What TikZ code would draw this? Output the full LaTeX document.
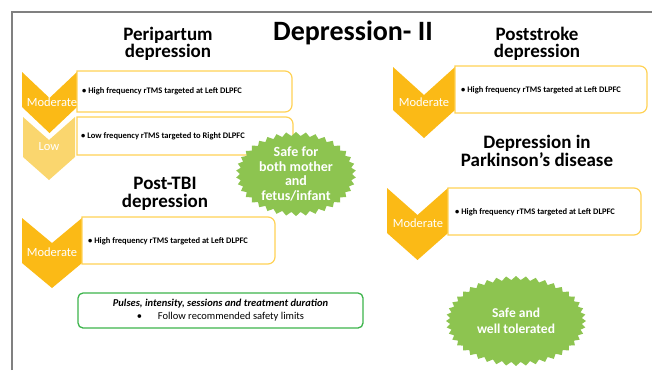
\documentclass[tikz,border=0pt]{standalone}
\usepackage{fontspec}
\setmainfont{Carlito}
\usetikzlibrary{shapes.symbols}
\definecolor{chevgold}{RGB}{251,186,22}
\definecolor{chevlight}{RGB}{250,214,110}
\definecolor{boxgold}{RGB}{255,210,85}
\definecolor{burstgreen}{RGB}{141,196,80}
\definecolor{notegreen}{RGB}{60,180,75}
\definecolor{framegray}{RGB}{128,128,128}
\tikzset{
  heading/.style={font=\fontsize{19}{17.5}\selectfont\bfseries, align=center, inner sep=0pt},
  level-text/.style={font=\fontsize{12.5}{14}\selectfont, text=white, inner sep=0pt},
  option-text/.style={font=\fontsize{8.5}{10}\selectfont\bfseries, anchor=west, inner sep=0pt},
  optline/.style={draw=boxgold, line width=1.2pt, fill=white},
  burst/.style={starburst, starburst points=38, starburst point height=4pt,
    random starburst=0, fill=burstgreen, text=white, align=center, inner sep=0pt,
    font=\fontsize{14}{14.5}\selectfont\bfseries},
  note/.style={draw=notegreen, line width=1.3pt, rounded corners=5pt, fill=white,
    minimum width=285pt, minimum height=35pt, align=center, inner sep=0pt,
    font=\fontsize{10.5}{13}\selectfont}
}
% chevron: left x, top y, width, side height, depth, colour
\newcommand{\chevron}[6]{
  \fill[#6] (#1,#2) -- (#1+#3/2,#2+#5) -- (#1+#3,#2) -- (#1+#3,#2+#4)
    -- (#1+#3/2,#2+#4+#5) -- (#1,#2+#4) -- cycle;
}
% option box, rounded on the right: x1, y1, x2, y2
\newcommand{\optbox}[4]{
  \draw[optline] (#1,#2) -- (#3-7,#2) arc[start angle=-90, end angle=0, radius=7]
    -- (#3,#4-7) arc[start angle=0, end angle=90, radius=7] -- (#1,#4) -- cycle;
}
\begin{document}
\begin{tikzpicture}[x=1pt, y=-1pt]
  \useasboundingbox (0,0) rectangle (652,370);

  % frame
  \draw[framegray, line width=1.5pt] (12,370) -- (12,12) -- (652,12);

  \node[font=\fontsize{28}{30}\selectfont\bfseries, inner sep=0pt] (title) at (353,33) {Depression- II};

  % Peripartum
  \node[heading] (peri) at (168,44) {Peripartum\\depression};
  \chevron{23}{117}{52}{40}{23}{chevlight}
  \chevron{22}{72}{55}{35}{26}{chevgold}
  \optbox{77}{71}{292}{112}
  \optbox{77}{117}{293}{155}
  \node[level-text] (peri-mod) at (52,102) {Moderate};
  \node[level-text] (peri-low) at (49,147) {Low};
  \node[option-text] (peri-high-f) at (82,91) {\textbullet{} High frequency rTMS targeted at Left DLPFC};
  \node[option-text] (peri-low-f) at (81,136) {\textbullet{} Low frequency rTMS targeted to Right DLPFC};

  \node[burst, minimum width=120pt, minimum height=80pt] (peri-safe) at (296,174)
    {Safe for\\both mother\\and\\fetus/infant};

  % Post-TBI
  \node[heading] (tbi) at (165,194) {Post-TBI\\depression};
  \chevron{22}{218}{60}{45}{25}{chevgold}
  \optbox{82}{217}{275}{264}
  \node[level-text] (tbi-mod) at (52,252) {Moderate};
  \node[option-text] (tbi-high-f) at (88,241) {\textbullet{} High frequency rTMS targeted at Left DLPFC};

  \node[note] (limits) at (220.5,310.5)
    {\textbf{\textit{Pulses, intensity, sessions and treatment duration}}\\
     \textbullet\hspace{1.5em}Follow recommended safety limits};

  % Poststroke
  \node[heading] (stroke) at (537,44) {Poststroke\\depression};
  \chevron{393}{67}{62}{43}{28}{chevgold}
  \optbox{455}{66}{647}{113}
  \node[level-text] (stroke-mod) at (424,102) {Moderate};
  \node[option-text] (stroke-high-f) at (461,90) {\textbullet{} High frequency rTMS targeted at Left DLPFC};

  % Parkinson
  \node[heading, font=\fontsize{19}{16}\selectfont\bfseries] (park) at (537,151) {Depression in\\Parkinson’s disease};
  \chevron{387}{188}{61}{45}{27}{chevgold}
  \optbox{448}{188}{641}{235}
  \node[level-text] (park-mod) at (418,223) {Moderate};
  \node[option-text] (park-high-f) at (455,212) {\textbullet{} High frequency rTMS targeted at Left DLPFC};

  \node[burst, starburst points=44, minimum width=140pt, minimum height=90pt,
    font=\fontsize{13.5}{16.5}\selectfont\bfseries] (park-safe) at (516,321)
    {Safe and\\well tolerated};
\end{tikzpicture}
\end{document}
